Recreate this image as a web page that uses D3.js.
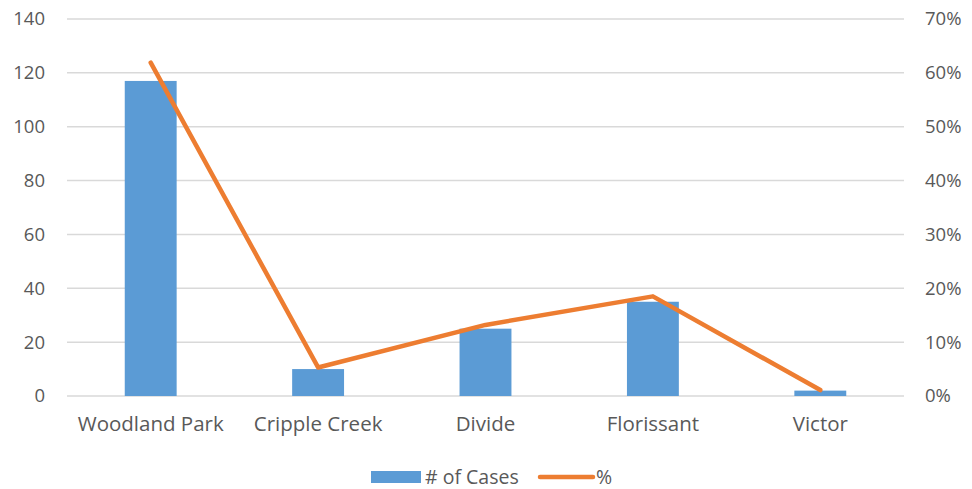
<!DOCTYPE html>
<head>
    <meta charset="utf-8">
    <title>Cases by town</title>
    <script type="text/javascript" src="https://d3js.org/d3.v7.min.js"></script>
    <style>
        body { margin: 0; background: #fff; }
        text { font-family: "Open Sans", "Noto Sans", sans-serif; fill: #595959; }
    </style>
</head>
<body>
<div id="container"></div>
<script>
    //-----------------------------DATA------------------------------//
    const towns = ["Woodland Park", "Cripple Creek", "Divide", "Florissant", "Victor"];
    const cases = [117, 10, 25, 35, 2];
    const percent = [61.9, 5.3, 13.2, 18.5, 1.1];
    const leftTicks = [0, 20, 40, 60, 80, 100, 120, 140];
    const rightTicks = [0, 10, 20, 30, 40, 50, 60, 70];

    //-----------------------------SVG-------------------------------//
    const width = 972;
    const height = 489;
    const margin = {top: 19, right: 68, bottom: 93, left: 67};

    const svg = d3.select("div#container").append("svg")
        .attr("width", width)
        .attr("height", height);

    //----------------------------SCALES-----------------------------//
    const xScale = d3.scaleBand()
        .domain(towns)
        .range([margin.left, width - margin.right])
        .paddingInner(0.69)
        .paddingOuter(0.345);
    const yLeft = d3.scaleLinear().domain([0, 140]).range([height - margin.bottom, margin.top]);
    const yRight = d3.scaleLinear().domain([0, 70]).range([height - margin.bottom, margin.top]);

    //---------------------------GRIDLINES---------------------------//
    svg.append("g")
        .selectAll("line")
        .data(leftTicks)
        .enter()
        .append("line")
        .attr("x1", margin.left)
        .attr("x2", width - margin.right)
        .attr("y1", d => yLeft(d))
        .attr("y2", d => yLeft(d))
        .attr("stroke", "#d9d9d9")
        .attr("stroke-width", 1.5);

    //-----------------------------AXES------------------------------//
    const leftAxis = d3.axisLeft(yLeft).tickValues(leftTicks).tickSize(0).tickPadding(22);
    const gl = svg.append("g")
        .attr("transform", `translate(${margin.left}, 0)`)
        .call(leftAxis);
    gl.select(".domain").remove();
    gl.selectAll("text").style("font-size", "18.5px").attr("fill", "#595959");

    const rightAxis = d3.axisRight(yRight).tickValues(rightTicks).tickSize(0)
        .tickPadding(21).tickFormat(d => d + "%");
    const gr = svg.append("g")
        .attr("transform", `translate(${width - margin.right}, 0)`)
        .call(rightAxis);
    gr.select(".domain").remove();
    gr.selectAll("text").style("font-size", "18.5px").attr("fill", "#595959");

    const bottomAxis = d3.axisBottom(xScale).tickSize(0).tickPadding(20);
    const gb = svg.append("g")
        .attr("transform", `translate(0, ${height - margin.bottom})`)
        .call(bottomAxis);
    gb.select(".domain").remove();
    gb.selectAll("text").style("font-size", "20.5px").attr("fill", "#595959");

    //-----------------------------BARS------------------------------//
    svg.append("g")
        .selectAll("rect")
        .data(towns)
        .enter()
        .append("rect")
        .attr("x", d => xScale(d))
        .attr("width", xScale.bandwidth())
        .attr("y", (d, i) => yLeft(cases[i]))
        .attr("height", (d, i) => yLeft(0) - yLeft(cases[i]))
        .attr("fill", "#5b9bd5");

    //-----------------------------LINE------------------------------//
    const line = d3.line()
        .x((d, i) => xScale(towns[i]) + xScale.bandwidth() / 2)
        .y(d => yRight(d));

    svg.append("path")
        .attr("d", line(percent))
        .attr("fill", "none")
        .attr("stroke", "#ed7d31")
        .attr("stroke-width", 4.5)
        .attr("stroke-linecap", "round")
        .attr("stroke-linejoin", "round");

    //----------------------------LEGEND-----------------------------//
    const legend = svg.append("g").attr("transform", "translate(0, 477)");
    legend.append("rect")
        .attr("x", 371).attr("y", -6)
        .attr("width", 50).attr("height", 12)
        .attr("fill", "#5b9bd5");
    legend.append("text")
        .attr("x", 425).attr("y", 0)
        .attr("dy", "0.35em")
        .style("font-size", "19.5px")
        .text("# of Cases");
    legend.append("line")
        .attr("x1", 540).attr("x2", 593)
        .attr("y1", 0).attr("y2", 0)
        .attr("stroke", "#ed7d31")
        .attr("stroke-width", 4.5)
        .attr("stroke-linecap", "round");
    legend.append("text")
        .attr("x", 596).attr("y", 0)
        .attr("dy", "0.35em")
        .style("font-size", "19.5px")
        .text("%");
</script>
</body>
